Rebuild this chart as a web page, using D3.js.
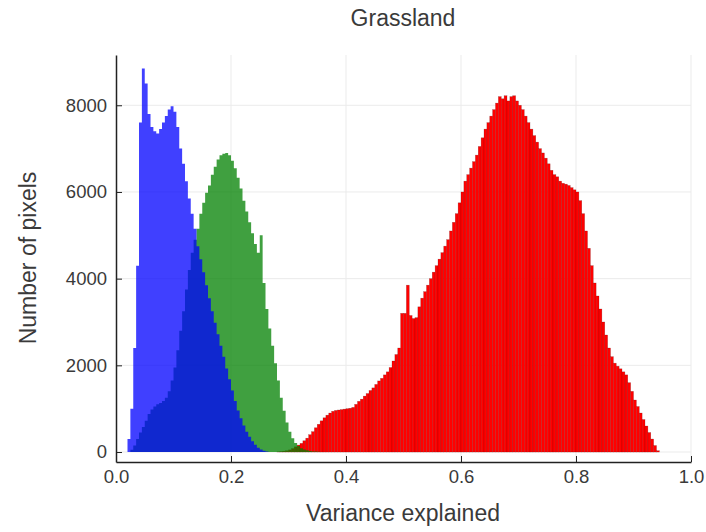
<!DOCTYPE html>
<meta charset="utf-8">
<style>
  body { margin: 0; background: #fff; }
  text { font-family: "Liberation Sans", Arial, sans-serif; fill: #3a3a3a; }
  .grid line { stroke: #ebebeb; stroke-width: 1; }
  .axis path, .axis line { stroke: #222; }
  .axis text { font-size: 18.5px; }
</style>
<body>
<div id="chart"></div>
<script src="https://d3js.org/d3.v7.min.js"></script>
<script>
// histogram bins, width 0.005, each series starts at its own left edge
var binWidth = 0.005;

var blueStart = 0.015;
var blueCounts = [0, 300, 1000, 2400, 4300, 7600, 8850, 8500, 7800, 7500,
  7400, 7350, 7450, 7600, 7750, 7900, 7980, 7850, 7500, 7000,
  6650, 6250, 5850, 5500, 5150, 4750, 4450, 4150, 3850, 3550,
  3250, 2980, 2720, 2450, 2200, 1930, 1680, 1420, 1180, 960,
  780, 610, 470, 350, 250, 170, 100, 60, 30, 10];

var greenStart = 0.025;
var greenCounts = [50, 150, 300, 450, 580, 720, 880, 980, 1050, 1100,
  1130, 1180, 1250, 1400, 1650, 1950, 2350, 2800, 3250, 3750,
  4200, 4600, 4900, 5150, 5500, 5750, 5980, 6150, 6400, 6580,
  6750, 6850, 6880, 6900, 6850, 6720, 6550, 6330, 6080, 5800,
  5550, 5300, 5050, 4800, 4600, 5000, 3900, 3300, 2850, 2450,
  2050, 1650, 1250, 950, 680, 470, 320, 210, 140, 90,
  60, 40, 25, 15, 10, 5];

var redStart = 0.28;
var redCounts = [5, 10, 20, 30, 50, 80, 120, 160, 200, 260,
  320, 400, 470, 560, 640, 720, 790, 850, 900, 940,
  960, 970, 980, 990, 1000, 1010, 1030, 1100, 1170, 1220,
  1290, 1350, 1420, 1480, 1560, 1640, 1700, 1780, 1850, 1950,
  2100, 2250, 2400, 3200, 3200, 3850, 3150, 3080, 3100, 3350,
  3550, 3700, 3850, 4000, 4150, 4300, 4450, 4600, 4750, 4900,
  5100, 5300, 5500, 5750, 6000, 6250, 6400, 6550, 6700, 6850,
  7050, 7250, 7450, 7600, 7750, 7900, 8050, 8200, 8150, 8220,
  8100, 8200, 8220, 8100, 8000, 7900, 7750, 7600, 7450, 7300,
  7150, 7000, 6900, 6780, 6650, 6500, 6400, 6350, 6250, 6200,
  6180, 6150, 6100, 6050, 6000, 5800, 5500, 5100, 4700, 4300,
  3900, 3600, 3300, 3000, 2700, 2400, 2200, 2050, 1980, 1920,
  1850, 1780, 1600, 1400, 1200, 1050, 900, 750, 600, 450,
  300, 150, 30];

var xTicks = [0, 0.2, 0.4, 0.6, 0.8, 1.0];
var yTicks = [0, 2000, 4000, 6000, 8000];

var W = 706, H = 532;
var svg = d3.select("#chart").append("svg")
  .attr("width", W).attr("height", H);

var x = d3.scaleLinear().domain([0, 1]).range([116, 691]);
var y = d3.scaleLinear().domain([-230, 9160]).range([462, 55]);

// grid
var grid = svg.append("g").attr("class", "grid");
grid.selectAll(".gx").data(xTicks.slice(1)).enter().append("line")
  .attr("x1", function (d) { return x(d); }).attr("x2", function (d) { return x(d); })
  .attr("y1", y.range()[1]).attr("y2", y.range()[0]);
grid.selectAll(".gy").data(yTicks).enter().append("line")
  .attr("y1", function (d) { return y(d); }).attr("y2", function (d) { return y(d); })
  .attr("x1", x.range()[0]).attr("x2", x.range()[1]);

function toBins(start, counts) {
  return counts.map(function (c, i) {
    return { x0: start + i * binWidth, x1: start + (i + 1) * binWidth, n: c };
  });
}

// red: separate bars with dark edges
svg.append("g")
  .attr("fill", "#ff0000")
  .selectAll("rect").data(toBins(redStart, redCounts)).enter().append("rect")
  .attr("x", function (d) { return x(d.x0); })
  .attr("width", function (d) { return x(d.x1) - x(d.x0); })
  .attr("y", function (d) { return y(d.n); })
  .attr("height", function (d) { return y(0) - y(d.n); })
  .attr("stroke", "rgba(90,0,0,0.4)")
  .attr("stroke-width", 0.5);

// green and blue: semi-transparent step outlines (no seams between bins)
function stepPoints(bins) {
  var pts = [];
  bins.forEach(function (d) {
    pts.push([d.x0, d.n]);
    pts.push([d.x1, d.n]);
  });
  return pts;
}

var area = d3.area()
  .x(function (p) { return x(p[0]); })
  .y0(y(0))
  .y1(function (p) { return y(p[1]); })
  .curve(d3.curveLinear);

svg.append("path")
  .datum(stepPoints(toBins(greenStart, greenCounts)))
  .attr("fill", "#008000")
  .attr("fill-opacity", 0.75)
  .attr("d", area);

svg.append("path")
  .datum(stepPoints(toBins(blueStart, blueCounts)))
  .attr("fill", "#0000ff")
  .attr("fill-opacity", 0.75)
  .attr("d", area);

// axes, ticks pointing inward
svg.append("g").attr("class", "axis")
  .attr("transform", "translate(0," + y.range()[0] + ")")
  .call(d3.axisBottom(x).tickValues(xTicks).tickFormat(d3.format(".1f"))
    .tickSizeInner(-6).tickSizeOuter(0).tickPadding(8));

svg.append("g").attr("class", "axis")
  .attr("transform", "translate(" + x.range()[0] + ",0)")
  .call(d3.axisLeft(y).tickValues(yTicks).tickFormat(d3.format("d"))
    .tickSizeInner(-6).tickSizeOuter(0).tickPadding(9));

svg.selectAll(".axis .domain").attr("stroke-width", 1.5);

svg.append("text")
  .attr("x", 403).attr("y", 26)
  .attr("text-anchor", "middle")
  .style("font-size", "23px")
  .text("Grassland");

svg.append("text")
  .attr("x", 403).attr("y", 521)
  .attr("text-anchor", "middle")
  .style("font-size", "23px")
  .text("Variance explained");

svg.append("text")
  .attr("transform", "translate(36,258) rotate(-90)")
  .attr("text-anchor", "middle")
  .style("font-size", "23px")
  .text("Number of pixels");
</script>
</body>
